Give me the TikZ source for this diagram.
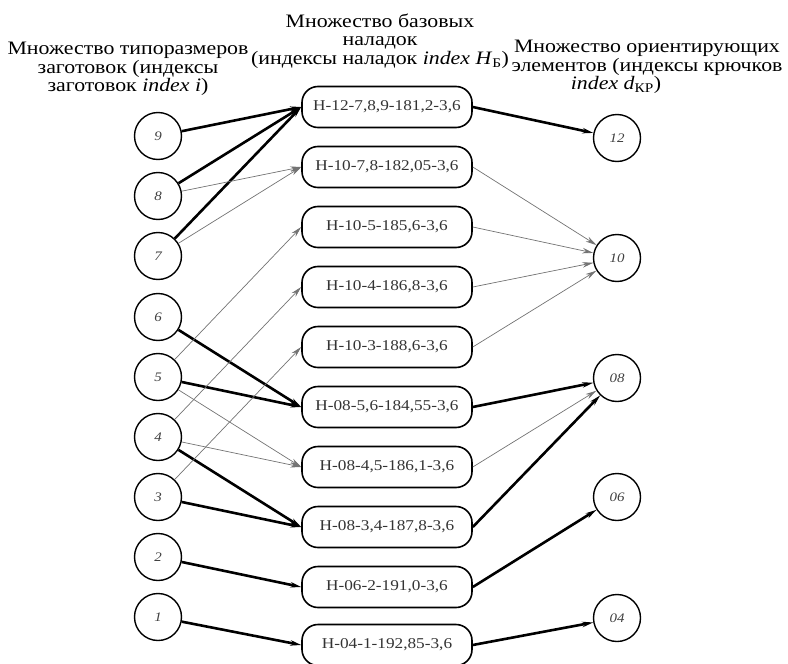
\documentclass[tikz,border=0pt]{standalone}
\usepackage{fontspec}
\setmainfont{Liberation Serif}[FakeStretch=1.15]
\usetikzlibrary{arrows.meta}

\begin{document}
\begin{tikzpicture}[x=1pt,y=-1pt,>={Stealth[length=11pt,width=5.5pt]},
	blank/.style={draw,circle,line width=1.4pt,minimum size=47pt,inner sep=0pt,
		font=\fontsize{13}{13}\selectfont\itshape,text=black!75},
	setup/.style={draw,rounded corners=16pt,line width=1.6pt,minimum width=170pt,
		minimum height=41pt,inner sep=0pt,font=\fontsize{15}{15}\selectfont,text=black!80},
	heavy/.style={line width=2.6pt,->},
	light/.style={line width=0.7pt,black!55,->},
	caption/.style={align=center,font=\fontsize{19}{18.5}\selectfont}]

	% Fix the page to the size of the reference
	\useasboundingbox (0,0) rectangle (788,664);

	% Draw the three column headings
	\node[caption] (hblank) at (128,69) {Множество типоразмеров\\заготовок (индексы\\заготовок \textit{index i})};
	\node[caption] (hsetup) at (380,41) {Множество базовых\\наладок\\(индексы наладок \textit{index H}\textsubscript{Б})};
	\node[caption] (hhook) at (647,67) {Множество ориентирующих\\элементов (индексы крючков\\\textit{index d}\textsubscript{КР})\hspace*{62pt}};

	% Draw the blank sizes (left column)
	\foreach \n/\y in {9/136,8/196,7/256,6/317,5/377,4/437,3/497,2/557,1/617}
		\node[blank] (w\n) at (158,\y) {\n};

	% Draw the base setups (middle column)
	\node[setup] (b1) at (387,107) {Н-12-7,8,9-181,2-3,6};
	\node[setup] (b2) at (387,167) {Н-10-7,8-182,05-3,6};
	\node[setup] (b3) at (387,227) {Н-10-5-185,6-3,6};
	\node[setup] (b4) at (387,287) {Н-10-4-186,8-3,6};
	\node[setup] (b5) at (387,347) {Н-10-3-188,6-3,6};
	\node[setup] (b6) at (387,407) {Н-08-5,6-184,55-3,6};
	\node[setup] (b7) at (387,467) {Н-08-4,5-186,1-3,6};
	\node[setup] (b8) at (387,527) {Н-08-3,4-187,8-3,6};
	\node[setup] (b9) at (387,587) {Н-06-2-191,0-3,6};
	\node[setup] (b10) at (387,645) {Н-04-1-192,85-3,6};

	% Draw the orienting elements (right column)
	\foreach \n/\y in {12/138,10/258,08/378,06/497,04/618}
		\node[blank] (d\n) at (617,\y) {\n};

	% Draw the links from blanks to setups
	\foreach \a/\b in {9/1,8/1,7/1,6/6,5/6,4/8,3/8,2/9,1/10}
		\draw[heavy] (w\a) -- (b\b.west);
	\foreach \a/\b in {8/2,7/2,5/3,4/4,3/5,5/7,4/7}
		\draw[light] (w\a) -- (b\b.west);

	% Draw the links from setups to orienting elements
	\foreach \a/\b in {1/12,6/08,8/08,9/06,10/04}
		\draw[heavy] (b\a.east) -- (d\b);
	\foreach \a/\b in {2/10,3/10,4/10,5/10,7/08}
		\draw[light] (b\a.east) -- (d\b);

\end{tikzpicture}
\end{document}
